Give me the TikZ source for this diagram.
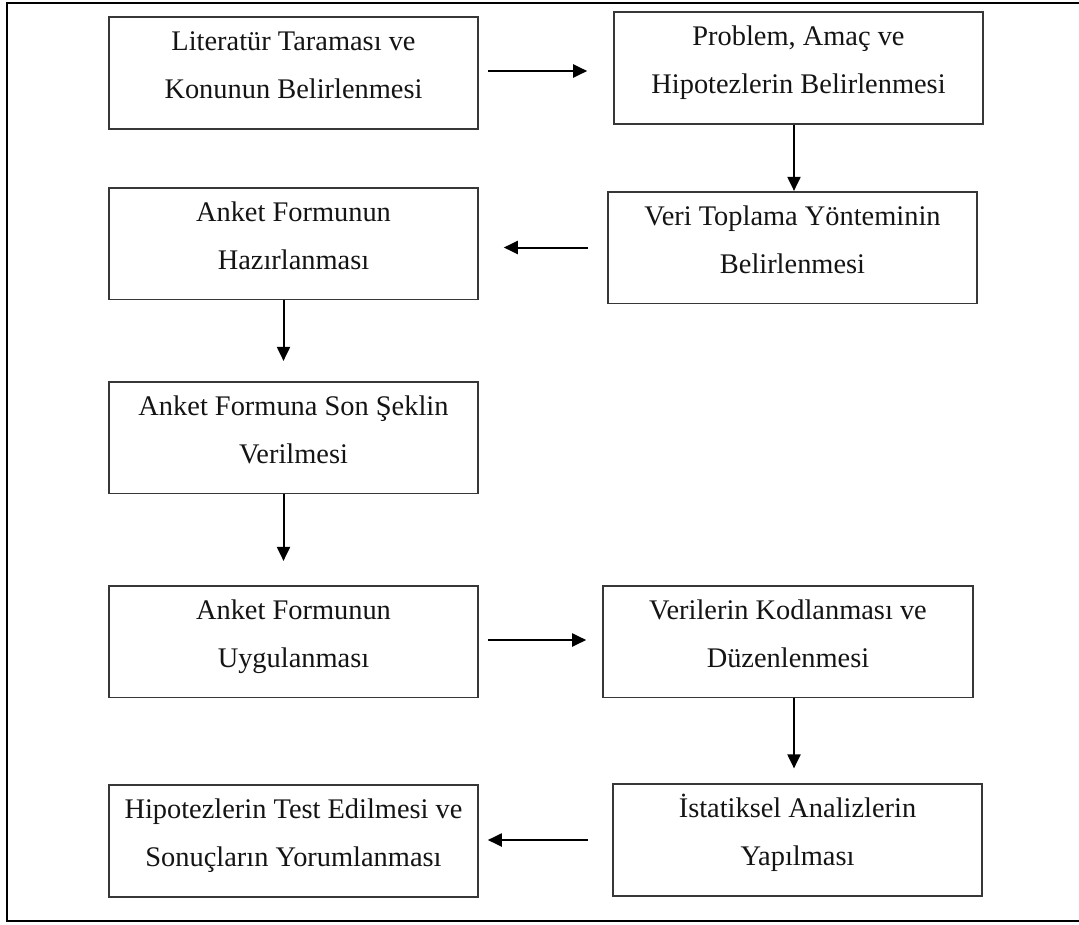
\documentclass[tikz,border=0pt]{standalone}
\usepackage{fontspec}
\setmainfont{Liberation Serif}
\usetikzlibrary{arrows.meta,calc}
\definecolor{boxc}{RGB}{55,55,55}
\definecolor{txtc}{RGB}{20,20,20}
\newcommand{\lowpad}{\rule[-30pt]{0pt}{0pt}}
\tikzset{
  box/.style={draw=boxc, line width=1.6pt, rectangle, align=center, inner sep=0pt,
    text=txtc, font=\fontsize{28.4}{48}\selectfont},
  arr/.style={draw=black, line width=2pt, -{Triangle[length=14pt,width=13pt]}},
  frame/.style={draw=black, line width=2pt}
}
\begin{document}
\begin{tikzpicture}[x=1pt,y=-1pt]
\useasboundingbox (0,0) rectangle (1079,924);
\fill[white] (0,0) rectangle (1079,924);
\draw[frame] (1085,3) -- (7,3) -- (7,921) -- (1085,921);

\node[box, minimum width=369pt, minimum height=98pt] (b1) at (293.5,73)
  {\strut Literatür Taraması ve\\\strut Konunun Belirlenmesi\lowpad};
\node[box, minimum width=369pt, minimum height=98pt] (b2) at (798.5,68)
  {\strut Problem, Amaç ve\\\strut Hipotezlerin Belirlenmesi\lowpad};
\node[box, minimum width=369pt, minimum height=97pt] (b3) at (293.5,243.5)
  {\strut Anket Formunun\\\strut Hazırlanması\lowpad};
\node[box, minimum width=369pt, minimum height=97pt] (b4) at (792.5,247.5)
  {\strut Veri Toplama Yönteminin\\\strut Belirlenmesi\lowpad};
\node[box, minimum width=369pt, minimum height=97pt] (b5) at (293.5,437.5)
  {\strut Anket Formuna Son Şeklin\\\strut Verilmesi\lowpad};
\node[box, minimum width=369pt, minimum height=97pt] (b6) at (293.5,641.5)
  {\strut Anket Formunun\\\strut Uygulanması\lowpad};
\node[box, minimum width=370pt, minimum height=99pt] (b7) at (788,641.5)
  {\strut Verilerin Kodlanması ve\\\strut Düzenlenmesi\lowpad};
\node[box, minimum width=369pt, minimum height=98pt] (b8) at (797.5,840)
  {\strut İstatiksel Analizlerin\\\strut Yapılması\lowpad};
\node[box, minimum width=369pt, minimum height=98pt] (b9) at (293.5,841)
  {\strut Hipotezlerin Test Edilmesi ve\\\strut Sonuçların Yorumlanması\lowpad};

\draw[arr, shorten <=9pt, shorten >=26pt] ([yshift=2pt]b1.east) -- ([yshift=2pt]b1.east -| b2.west);
\draw[arr] ([xshift=1.5pt]b4.north |- b2.south) -- ([xshift=1.5pt]b4.north);
\draw[arr, shorten <=19pt, shorten >=25pt] (b4.west) -- (b4.west -| b3.east);
\draw[arr, shorten >=20pt] ([xshift=-10pt]b3.south) -- ([xshift=-10pt]b3.south |- b5.north);
\draw[arr, shorten >=24pt] ([xshift=-10pt]b5.south) -- ([xshift=-10pt]b5.south |- b6.north);
\draw[arr, shorten <=9pt, shorten >=16pt] ([yshift=1.5pt]b6.east) -- ([yshift=1.5pt]b6.east -| b7.west);
\draw[arr, shorten >=15pt] ([xshift=6pt]b7.south) -- ([xshift=6pt]b7.south |- b8.north);
\draw[arr, shorten <=24pt, shorten >=9pt] (b8.west) -- (b8.west -| b9.east);
\end{tikzpicture}
\end{document}
